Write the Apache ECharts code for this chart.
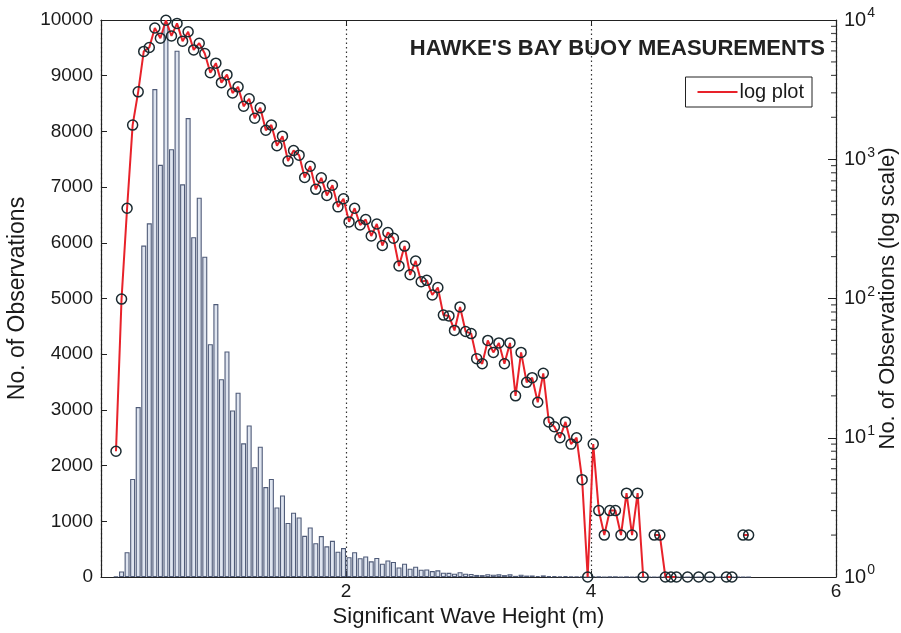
<!DOCTYPE html>
<html>
<head>
<meta charset="utf-8">
<script src="https://cdn.jsdelivr.net/npm/echarts@6/dist/echarts.min.js"></script>
<style>
  html, body { margin: 0; padding: 0; background: #fff; }
  #chart { width: 901px; height: 633px; }
</style>
</head>
<body>
<div id="chart"></div>
<script>
// Hawke's Bay buoy: histogram of significant wave height
const binStart = 0.1224;   // centre of first bin (m)
const binWidth = 0.0453;   // bin width (m)

// observation count per bin
const counts = [
  8, 99, 445, 1760, 3050, 5950, 6350, 8760, 7400, 9950,
  7680, 9450, 7050, 8240, 6100, 6810, 5750, 4180, 4900, 3550,
  4050, 2990, 3310, 2400, 2720, 1970, 2340, 1615, 1760, 1250,
  1465, 970, 1155, 1070, 740, 890, 608, 735, 550, 650,
  455, 520, 355, 445, 337, 369, 281, 343, 240, 298,
  271, 171, 238, 148, 186, 132, 135, 106, 120, 76,
  75, 59, 87, 58, 56, 37, 34, 50, 41, 48,
  34, 48, 20, 41, 25, 27, 18, 29, 13, 12,
  10, 13, 9, 10, 5, 1, 9, 3, 2, 3,
  3, 2, 4, 2, 4, 1, 0, 2, 2, 1,
  1, 1, 0, 1, 0, 1, 0, 1, 0, 0,
  1, 1, 0, 2, 2
];

const xTicks = [2, 4, 6];
const linTicksMax = 10000;
const logDecades = [1, 10, 100, 1000, 10000];
const logMinorTicks = [
  2, 3, 4, 5, 6, 7, 8, 9,
  20, 30, 40, 50, 60, 70, 80, 90,
  200, 300, 400, 500, 600, 700, 800, 900,
  2000, 3000, 4000, 5000, 6000, 7000, 8000, 9000
];

const centres = counts.map((_, i) => +(binStart + i * binWidth).toFixed(4));
const barData = counts.map((c, i) => [centres[i], c]);
// zero counts cannot sit on a log axis, leave gaps there
const logData = counts.map((c, i) => [centres[i], c > 0 ? c : null]);
const minorData = logMinorTicks.map(v => [6, v]);

const FONT = 'Liberation Sans, Arial, Helvetica, sans-serif';
const INK = '#1a1a1a';

const frameLine = { show: true, onZero: false, lineStyle: { color: '#222', width: 1.2 } };

const chart = echarts.init(document.getElementById('chart'), null, { renderer: 'canvas' });

chart.setOption({
  backgroundColor: '#ffffff',
  animation: false,
  textStyle: { fontFamily: FONT, color: INK },
  title: {
    text: "HAWKE'S BAY BUOY MEASUREMENTS",
    right: 71,
    top: 33,
    textStyle: { fontFamily: FONT, fontSize: 22, fontWeight: 'bold', color: '#222' }
  },
  legend: {
    right: 89,
    top: 77,
    orient: 'vertical',
    padding: [5, 8, 5, 12],
    borderColor: '#222',
    borderWidth: 1,
    itemWidth: 40,
    itemHeight: 2,
    itemGap: 4,
    textStyle: { fontFamily: FONT, fontSize: 20, color: INK, padding: [0, 0, 0, -3] },
    data: [{ name: 'log plot', icon: 'rect', itemStyle: { color: '#e8222a', borderWidth: 0 } }]
  },
  grid: {
    left: 101, right: 65, top: 20, bottom: 56,
    containLabel: false,
    outerBoundsMode: 'none'
  },
  xAxis: [
    {
      type: 'value',
      min: 0, max: 6, interval: 2,
      position: 'bottom',
      name: 'Significant Wave Height (m)',
      nameLocation: 'middle',
      nameGap: 27,
      nameTextStyle: { fontFamily: FONT, fontSize: 22, color: INK },
      axisLine: frameLine,
      axisTick: { show: true, inside: true, length: 6, lineStyle: { color: '#222' } },
      axisLabel: {
        fontFamily: FONT, fontSize: 19, color: INK, margin: 5,
        showMinLabel: false,
        formatter: v => (xTicks.indexOf(v) >= 0 ? String(v) : '')
      },
      splitLine: { show: true, lineStyle: { type: [1.5, 3], color: '#333', width: 1.2 } }
    },
    {
      type: 'value',
      min: 0, max: 6, interval: 2,
      position: 'top',
      axisLine: frameLine,
      axisTick: { show: true, inside: true, length: 6, lineStyle: { color: '#222' } },
      axisLabel: { show: false },
      splitLine: { show: false }
    }
  ],
  yAxis: [
    {
      type: 'value',
      min: 0, max: linTicksMax, interval: 1000,
      position: 'left',
      name: 'No. of Observations',
      nameLocation: 'middle',
      nameGap: 67,
      nameTextStyle: { fontFamily: FONT, fontSize: 23, color: INK },
      axisLine: frameLine,
      axisTick: { show: true, inside: true, length: 6, lineStyle: { color: '#222' } },
      axisLabel: { fontFamily: FONT, fontSize: 19, color: INK, margin: 8, formatter: v => String(v) },
      splitLine: { show: false }
    },
    {
      type: 'log',
      logBase: 10,
      min: 1, max: 10000,
      position: 'right',
      name: 'No. of Observations (log scale)',
      nameLocation: 'middle',
      nameGap: 41,
      nameRotate: 90,
      nameMoveOverlap: false,
      nameTextStyle: { fontFamily: FONT, fontSize: 22, color: INK },
      axisLine: frameLine,
      axisTick: { show: true, inside: true, length: 8, lineStyle: { color: '#222' } },
      axisLabel: {
        fontFamily: FONT, fontSize: 20, color: INK, margin: 8,
        formatter: v => logDecades.indexOf(v) >= 0
          ? '10{s|' + Math.round(Math.log10(v)) + '}' : '',
        rich: {
          s: { fontFamily: FONT, fontSize: 14, color: INK, padding: [0, 0, 13, 1] }
        }
      },
      splitLine: { show: false }
    }
  ],
  series: [
    {
      name: 'histogram',
      type: 'bar',
      xAxisIndex: 0,
      yAxisIndex: 0,
      data: barData,
      barWidth: 5,
      itemStyle: { color: '#dfe5f0', borderColor: '#4f5b78', borderWidth: 1.1 },
      silent: true
    },
    {
      name: 'log plot',
      type: 'line',
      xAxisIndex: 0,
      yAxisIndex: 1,
      data: logData,
      connectNulls: false,
      showAllSymbol: true,
      symbol: 'circle',
      symbolSize: 10,
      lineStyle: { color: '#e8222a', width: 2 },
      itemStyle: { color: 'rgba(255,255,255,0)', borderColor: '#1b2a30', borderWidth: 1.5 },
      z: 5
    },
    {
      name: 'minor ticks',
      type: 'scatter',
      xAxisIndex: 0,
      yAxisIndex: 1,
      data: minorData,
      symbol: 'rect',
      symbolSize: [5, 1.2],
      symbolOffset: [-2.5, 0],
      itemStyle: { color: '#222' },
      clip: false,
      silent: true,
      z: 6
    }
  ]
});
</script>
</body>
</html>
